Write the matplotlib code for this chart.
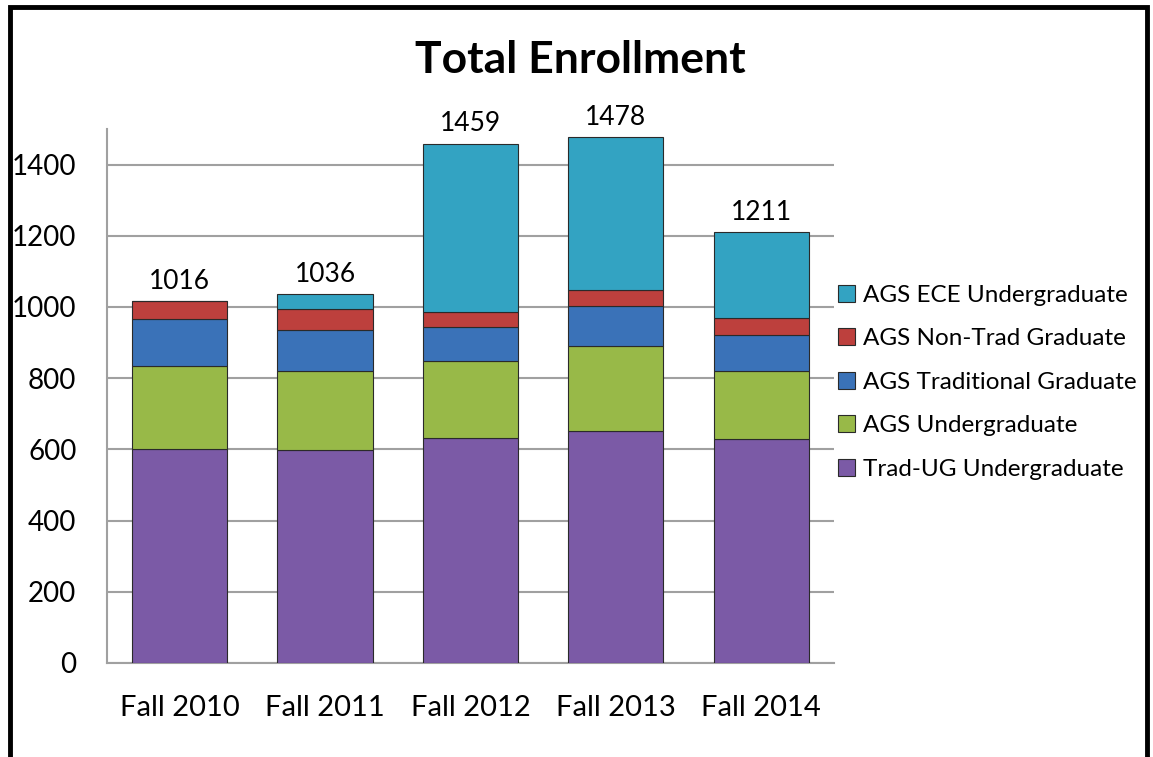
import matplotlib.pyplot as plt
from matplotlib.patches import Rectangle
import numpy as np

plt.rcParams['font.family'] = ['Lato', 'DejaVu Sans']

years = ['Fall 2010', 'Fall 2011', 'Fall 2012', 'Fall 2013', 'Fall 2014']
trad_ug = [601, 599, 632, 652, 630]
ags_ug = [233, 222, 216, 238, 191]
ags_trad_grad = [131, 115, 95, 112, 101]
ags_nontrad_grad = [51, 57, 42, 46, 48]
ags_ece_ug = [0, 43, 474, 430, 241]
totals = [1016, 1036, 1459, 1478, 1211]

series = [
    ('Trad-UG Undergraduate', trad_ug, '#7b5aa6'),
    ('AGS Undergraduate', ags_ug, '#98b948'),
    ('AGS Traditional Graduate', ags_trad_grad, '#3a72b8'),
    ('AGS Non-Trad Graduate', ags_nontrad_grad, '#bd403d'),
    ('AGS ECE Undergraduate', ags_ece_ug, '#33a3c2'),
]

fig = plt.figure(figsize=(11.53, 7.57), dpi=100)
ax = fig.add_axes([0.0928, 0.1242, 0.6305, 0.7054])

x = np.arange(len(years))
bottom = np.zeros(len(years))
handles = []
for name, vals, col in series:
    vals = np.array(vals)
    b = ax.bar(x, vals, 0.655, bottom=bottom, color=col, edgecolor='#2a2a2a',
               linewidth=0.8, label=name, zorder=3)
    handles.append(b)
    bottom += vals

# totals above each stack
for xi, tot in zip(x, totals):
    ax.text(xi, tot + 20, str(tot), ha='center', va='bottom', fontsize=19)

ax.set_xlim(-0.5, len(years) - 0.5)
ax.set_ylim(0, 1500)
ax.set_yticks(range(0, 1401, 200))
ax.set_xticks(x)
ax.set_xticklabels(years)
ax.tick_params(axis='y', length=0, pad=22, labelsize=20)
ax.tick_params(axis='x', length=0, pad=23, labelsize=21)
ax.yaxis.grid(True, color='#a0a0a0', linewidth=1.5, zorder=0)
ax.set_axisbelow(True)
for s in ['top', 'right']:
    ax.spines[s].set_visible(False)
for s in ['left', 'bottom']:
    ax.spines[s].set_color('#a0a0a0')
    ax.spines[s].set_linewidth(1.5)

fig.text(0.503, 0.921, 'Total Enrollment', ha='center', va='center',
         fontsize=32, fontweight='bold')

leg = fig.legend(handles[::-1], [s[0] for s in series][::-1],
                 loc='center left', bbox_to_anchor=(0.727, 0.495),
                 frameon=False, fontsize=17.5, handlelength=0.7,
                 handleheight=0.7, handletextpad=0.3, labelspacing=0.92,
                 borderaxespad=0, borderpad=0)

# black frame round the chart, open at the bottom
fig.patches.append(Rectangle((0.0085, -0.05), 0.9865, 1.041, transform=fig.transFigure,
                             fill=False, edgecolor='black', linewidth=3.5))

fig.savefig('out.png', dpi=100)
